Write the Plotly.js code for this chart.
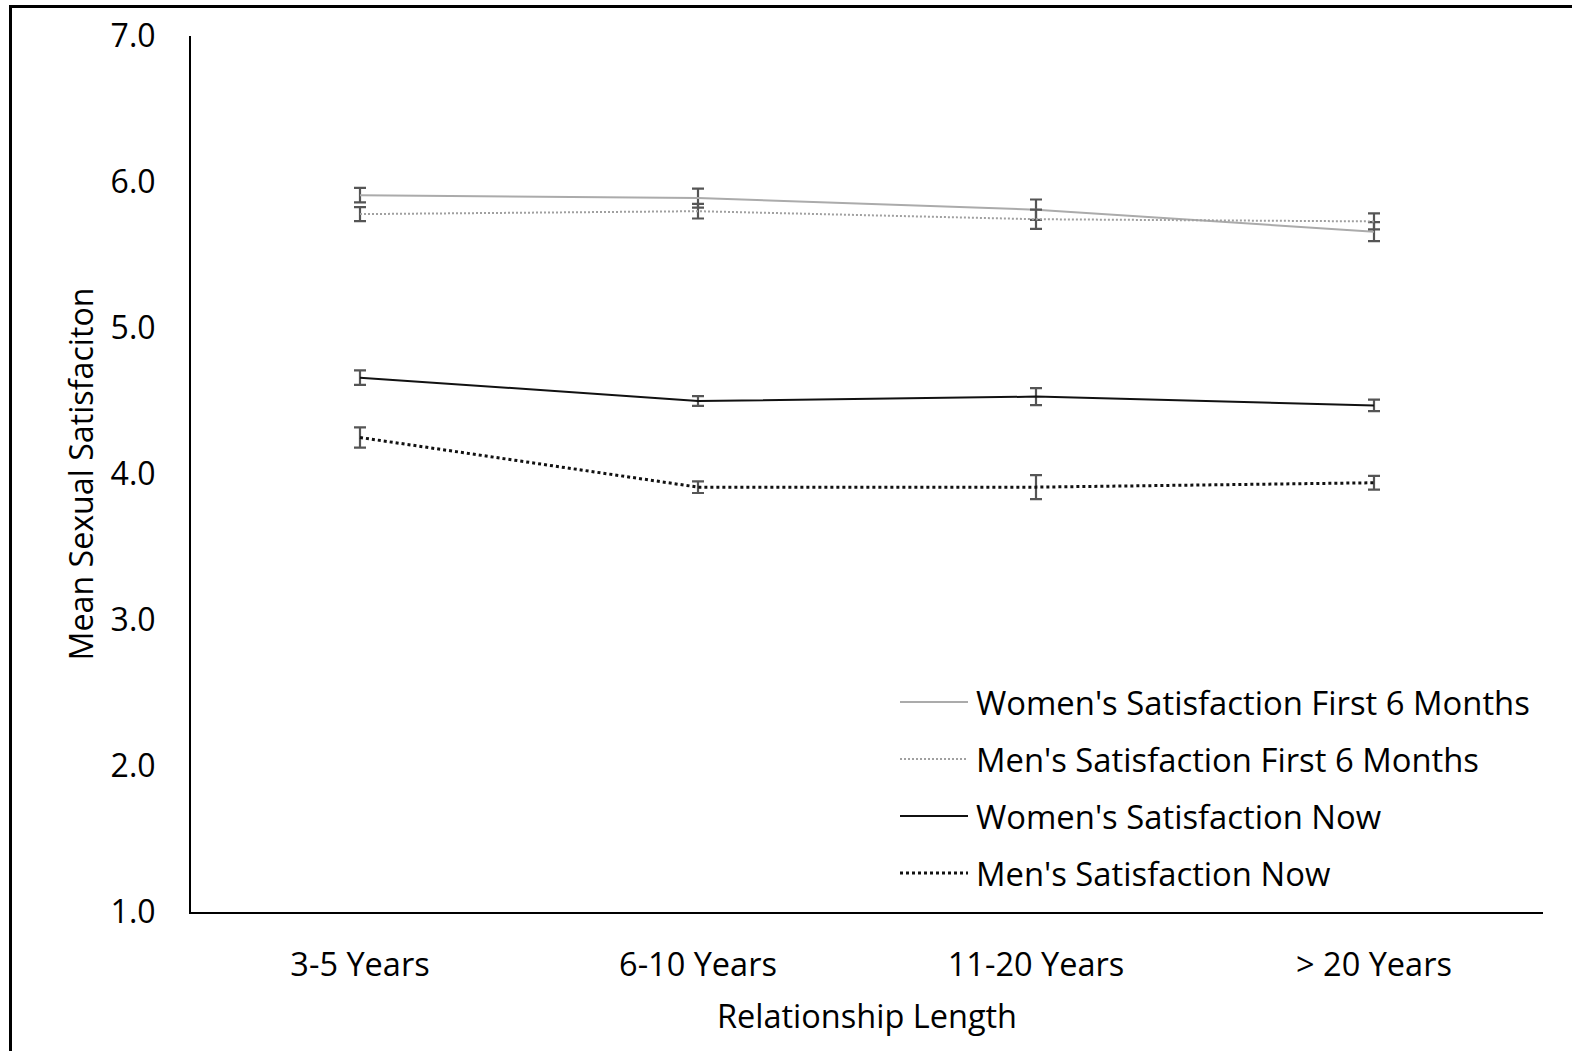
<!DOCTYPE html>
<html>
<head>
<meta charset="utf-8">
<script src="https://cdn.plot.ly/plotly-3.0.1.min.js"></script>
<style>
  html, body { margin: 0; padding: 0; background: #fff; }
  #wrap { position: relative; width: 1572px; height: 1051px; overflow: hidden; }
  #chart { position: absolute; left: 0; top: 0; width: 1572px; height: 1051px; }
  #frame { position: absolute; left: 9px; top: 5px; width: 1600px; height: 1100px;
           border-top: 3px solid #000; border-left: 3px solid #000; pointer-events: none; }
</style>
</head>
<body>
<div id="wrap">
  <div id="chart"></div>
  <div id="frame"></div>
</div>
<script>
// ---- data ----
const categories = ["3-5 Years", "6-10 Years", "11-20 Years", "> 20 Years"];

const seriesNames = [
  "Women's Satisfaction First 6 Months",
  "Men's Satisfaction First 6 Months",
  "Women's Satisfaction Now",
  "Men's Satisfaction Now"
];

const womenFirst6 = [5.91, 5.89, 5.81, 5.66];
const womenFirst6Err = [0.05, 0.065, 0.07, 0.065];

const menFirst6 = [5.78, 5.80, 5.745, 5.73];
const menFirst6Err = [0.048, 0.05, 0.066, 0.055];

const womenNow = [4.66, 4.50, 4.53, 4.47];
const womenNowErr = [0.05, 0.034, 0.058, 0.039];

const menNow = [4.25, 3.91, 3.91, 3.94];
const menNowErr = [0.07, 0.04, 0.082, 0.047];

const yTickVals = [1, 2, 3, 4, 5, 6, 7];
const yTickText = ["1.0", "2.0", "3.0", "4.0", "5.0", "6.0", "7.0"];

// ---- styles ----
const FONT = "Open Sans, Noto Sans, sans-serif";
const lineStyles = [
  { color: "#ababab", width: 2, dash: "solid" },
  { color: "#a0a0a0", width: 2, dash: "2px,2px" },
  { color: "#111111", width: 2, dash: "solid" },
  { color: "#111111", width: 3, dash: "3px,3px" }
];
const errStyle = { color: "#555555", thickness: 2.2, width: 6 };

const values = [womenFirst6, menFirst6, womenNow, menNow];
const errors = [womenFirst6Err, menFirst6Err, womenNowErr, menNowErr];

const traces = values.map((v, i) => ({
  type: "scatter",
  mode: "lines",
  name: seriesNames[i],
  x: categories,
  y: v,
  line: lineStyles[i],
  error_y: Object.assign({ type: "data", array: errors[i], visible: true }, errStyle),
  showlegend: false,
  hoverinfo: "x+y"
}));

// plot area in pixels
const W = 1572, H = 1051;
const M = { l: 191, r: 29, t: 36, b: 139 };
const pw = W - M.l - M.r, ph = H - M.t - M.b;
const px = x => (x - M.l) / pw;
const py = y => (H - M.b - y) / ph;

// custom legend (longer line samples, like the reference)
const legendY = [702, 759, 816, 873];
const shapes = [];
const annotations = [];
seriesNames.forEach((name, i) => {
  shapes.push({
    type: "line", xref: "paper", yref: "paper",
    x0: px(900), x1: px(968), y0: py(legendY[i]), y1: py(legendY[i]),
    line: { color: lineStyles[i].color, width: lineStyles[i].width, dash: lineStyles[i].dash }
  });
  annotations.push({
    xref: "paper", yref: "paper", x: px(974), y: py(legendY[i]),
    xanchor: "left", yanchor: "middle", showarrow: false,
    text: name, font: { family: FONT, size: 32.8, color: "#000" }
  });
});

const layout = {
  width: W, height: H,
  margin: M,
  paper_bgcolor: "#fff", plot_bgcolor: "#fff",
  font: { family: FONT, size: 32, color: "#000" },
  showlegend: false,
  xaxis: {
    type: "category",
    range: [-0.5, 3.5],
    showgrid: false, zeroline: false,
    showline: true, linecolor: "#000", linewidth: 2,
    ticks: "", ticklabelstandoff: 23,
    tickfont: { family: FONT, size: 32.5, color: "#000" },
    title: { text: "Relationship Length", font: { family: FONT, size: 32.5, color: "#000" }, standoff: 20 }
  },
  yaxis: {
    range: [1, 7],
    tickvals: yTickVals, ticktext: yTickText,
    showgrid: false, zeroline: false,
    showline: true, linecolor: "#000", linewidth: 2,
    ticks: "", ticklabelstandoff: 27,
    tickfont: { family: FONT, size: 32, color: "#000" },
    title: { text: "Mean Sexual Satisfaciton", font: { family: FONT, size: 32.2, color: "#000" }, standoff: 7 }
  },
  shapes: shapes,
  annotations: annotations
};

Plotly.newPlot("chart", traces, layout, { displayModeBar: false, staticPlot: true });
</script>
</body>
</html>
